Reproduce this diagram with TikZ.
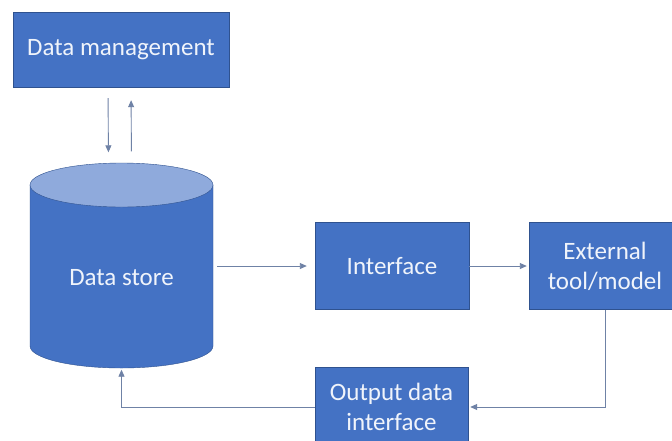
\documentclass[tikz,border=0pt]{standalone}
\usepackage{fontspec}
\setmainfont{Carlito}
\usetikzlibrary{arrows.meta}
\definecolor{boxblue}{HTML}{4472C4}
\definecolor{edgeblue}{HTML}{2F528F}
\definecolor{lidblue}{HTML}{8FAADC}
\definecolor{wire}{HTML}{6F82A6}
\definecolor{paper}{HTML}{F0F4FB}
\newcommand{\boxfont}{\fontsize{25}{30}\selectfont}
% vertical drum: centre x, top y, bottom y, half width, lid half height
\newcommand{\drum}[5]{\draw[edgeblue,fill=boxblue] (#1-#4,#2) -- (#1-#4,#3) arc[start angle=180,end angle=360,x radius=#4pt,y radius=#5pt] -- (#1+#4,#2) -- cycle;\draw[edgeblue,fill=lidblue] (#1,#2) ellipse[x radius=#4pt,y radius=#5pt];}
\begin{document}
\begin{tikzpicture}[x=1pt,y=-1pt,
  blk/.style={draw=edgeblue,fill=boxblue,text=paper,font=\boxfont,align=center,inner sep=0pt},
  flow/.style={wire,line width=0.9pt,-{Triangle[length=7pt,width=6pt]}}]
\useasboundingbox (0,0) rectangle (672,440);
\fill[white] (0,0) rectangle (672,440);
% data store drum
\drum{121.5}{185}{346}{91.5}{22}
\node[inner sep=0pt,minimum width=183pt,minimum height=205pt,label={[text=paper,font=\boxfont,yshift=-12pt]center:Data store}] (store) at (121.5,266) {};
% boxes
\node[blk,minimum width=216pt,minimum height=75pt] (mgmt) at (121,49.5) {Data management};
\node[blk,minimum width=154pt,minimum height=87pt] (iface) at (392,266) {Interface};
\node[blk,minimum width=152pt,minimum height=87pt] (ext) at (605,266) {External\\tool/model};
\node[blk,minimum width=153pt,minimum height=80pt] (out) at (391.5,407) {Output data\\interface};
% connectors
\draw[flow,shorten <=11pt,shorten >=11pt] ([xshift=-13pt]mgmt.south) -- ([xshift=-13pt]store.north);
\draw[flow,shorten <=12pt,shorten >=13pt] ([xshift=10pt]store.north) -- ([xshift=10pt]mgmt.south);
\draw[flow,shorten <=4pt,shorten >=8pt] (store.east) -- (iface.west);
\draw[flow,shorten >=2pt] (iface.east) -- (ext.west);
\draw[flow,shorten >=2pt] (ext.south) |- (out.east);
\draw[flow,shorten >=1pt] (out.west) -| (store.south);
\end{tikzpicture}
\end{document}
